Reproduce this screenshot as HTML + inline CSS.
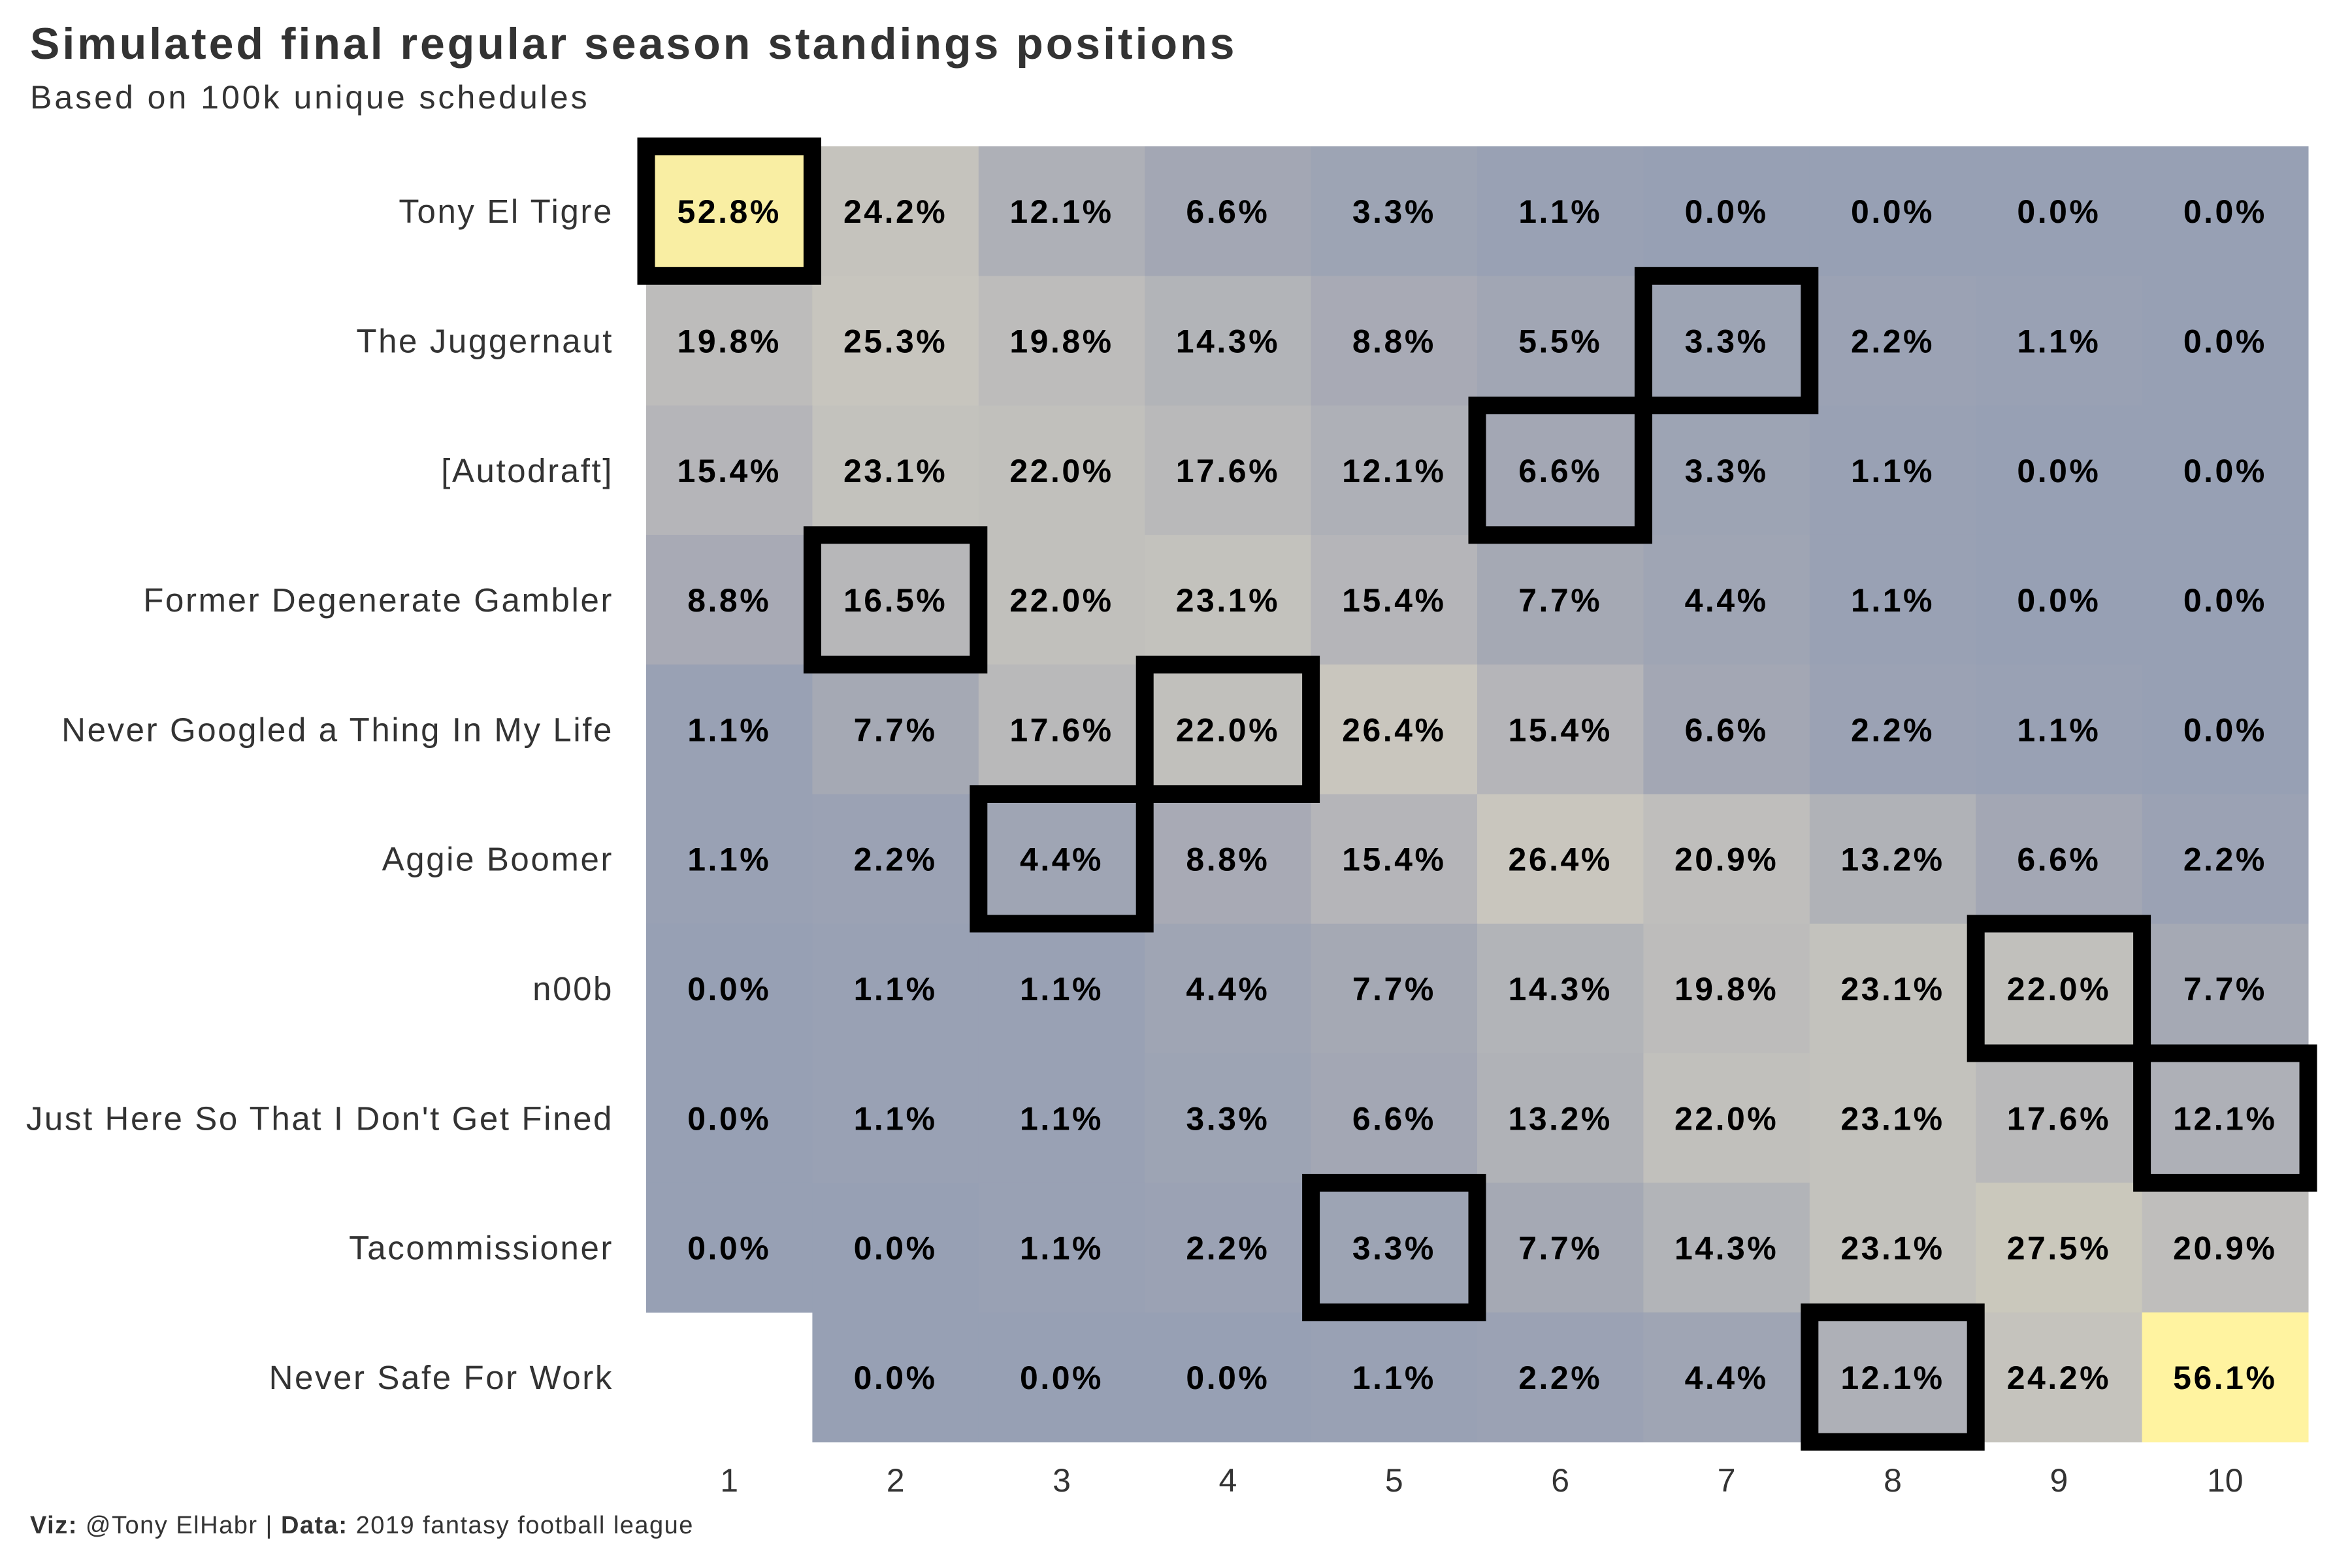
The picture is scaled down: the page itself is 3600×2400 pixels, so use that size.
<!DOCTYPE html>
<html><head><meta charset="utf-8"><style>
html,body{margin:0;padding:0;background:#fff;}
svg{display:block;}
text{font-family:"Liberation Sans",sans-serif;}
</style></head><body>
<svg id="chart" width="3600" height="2400" viewBox="0 0 3600 2400" xmlns="http://www.w3.org/2000/svg">
<text x="46" y="90" font-size="68" font-weight="bold" fill="#333" letter-spacing="4">Simulated final regular season standings positions</text>
<text x="46" y="166" font-size="50" fill="#333" letter-spacing="4">Based on 100k unique schedules</text>
<g id="cells"></g>
<g id="labels"></g>
<g id="boxes"></g>
<g id="yaxis"></g>
<g id="xaxis"></g>
<text x="46" y="2347" font-size="38" fill="#333" letter-spacing="1.5"><tspan font-weight="bold">Viz:</tspan> @Tony ElHabr | <tspan font-weight="bold">Data:</tspan> 2019 fantasy football league</text>
</svg>
<script>
const teams = ["Tony El Tigre","The Juggernaut","[Autodraft]","Former Degenerate Gambler","Never Googled a Thing In My Life","Aggie Boomer","n00b","Just Here So That I Don't Get Fined","Tacommissioner","Never Safe For Work"];
const positions = [1,2,3,4,5,6,7,8,9,10];
const row1 = [52.8,24.2,12.1,6.6,3.3,1.1,0.0,0.0,0.0,0.0];
const row2 = [19.8,25.3,19.8,14.3,8.8,5.5,3.3,2.2,1.1,0.0];
const row3 = [15.4,23.1,22.0,17.6,12.1,6.6,3.3,1.1,0.0,0.0];
const row4 = [8.8,16.5,22.0,23.1,15.4,7.7,4.4,1.1,0.0,0.0];
const row5 = [1.1,7.7,17.6,22.0,26.4,15.4,6.6,2.2,1.1,0.0];
const row6 = [1.1,2.2,4.4,8.8,15.4,26.4,20.9,13.2,6.6,2.2];
const row7 = [0.0,1.1,1.1,4.4,7.7,14.3,19.8,23.1,22.0,7.7];
const row8 = [0.0,1.1,1.1,3.3,6.6,13.2,22.0,23.1,17.6,12.1];
const row9 = [0.0,0.0,1.1,2.2,3.3,7.7,14.3,23.1,27.5,20.9];
const row10 = [null,0.0,0.0,0.0,1.1,2.2,4.4,12.1,24.2,56.1];
const actualPosition = [1,7,6,2,4,3,9,10,5,8];

const values = [row1,row2,row3,row4,row5,row6,row7,row8,row9,row10];
const NS = "http://www.w3.org/2000/svg";
const X0 = 989, CW = 254.4, Y0 = 224, RH = 198.3;
function xScale(p){ return X0 + (p-1)*CW; }
function yScale(i){ return Y0 + i*RH; }
const stops = [[0,[151,160,180]],[8,[166,169,180]],[17.6,[185,185,186]],[26,[200,198,190]],[35,[214,208,180]],[56.1,[255,243,160]]];
function color(v){
  for(let i=0;i<stops.length-1;i++){
    const a=stops[i], b=stops[i+1];
    if(v<=b[0]){
      const t=(v-a[0])/(b[0]-a[0]);
      const c=a[1].map((x,k)=>Math.round(x+(b[1][k]-x)*t));
      return `rgb(${c[0]},${c[1]},${c[2]})`;
    }
  }
  return "rgb(255,243,160)";
}
function mk(tag, attrs, parent){
  const el=document.createElementNS(NS,tag);
  for(const k in attrs) el.setAttribute(k,attrs[k]);
  parent.appendChild(el);
  return el;
}
const cells=document.getElementById('cells'), labels=document.getElementById('labels'), boxes=document.getElementById('boxes'), yaxis=document.getElementById('yaxis'), xaxis=document.getElementById('xaxis');
values.forEach((row,i)=>{
  row.forEach((v,j)=>{
    if(v===null) return;
    const p=positions[j];
    const r=mk('rect',{x:xScale(p),y:yScale(i),width:CW+0.5,height:RH+0.5,fill:color(v)},cells);
    
    
    const t=mk('text',{x:xScale(p)+CW/2,y:yScale(i)+RH/2+18,'text-anchor':'middle','font-size':50,'font-weight':'bold',fill:'#000','letter-spacing':3.5},labels);
    t.textContent=v.toFixed(1)+'%';
    
    
  });
  const b=mk('rect',{x:xScale(actualPosition[i]),y:yScale(i),width:CW,height:RH,fill:'none',stroke:'#000','stroke-width':27},boxes);
  
  
  const yl=mk('text',{x:939,y:yScale(i)+RH/2+18,'text-anchor':'end','font-size':51,fill:'#333','letter-spacing':2.6},yaxis);
  yl.textContent=teams[i];
  
  
});
positions.forEach(p=>{
  const xl=mk('text',{x:xScale(p)+CW/2,y:2283,'text-anchor':'middle','font-size':50,fill:'#333'},xaxis);
  xl.textContent=String(p);
  
  
});
</script>
</body></html>
